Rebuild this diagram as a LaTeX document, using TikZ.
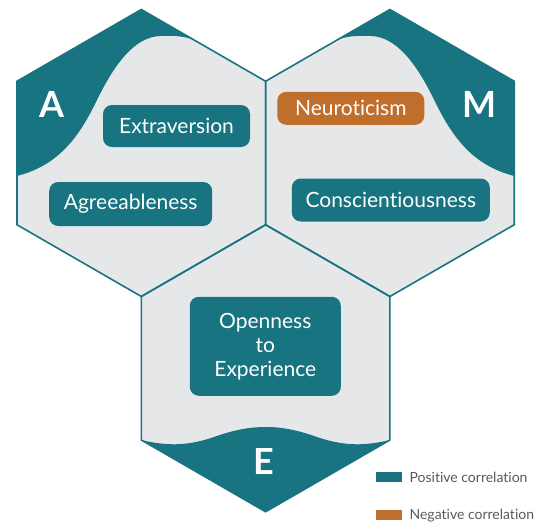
\documentclass[tikz,border=0pt]{standalone}
\usepackage{fontspec}
\setmainfont{Lato}[Ligatures={NoCommon}]
\usetikzlibrary{positioning}

\definecolor{hexteal}{RGB}{23,116,128}
\definecolor{hexgray}{RGB}{230,231,233}
\definecolor{negorange}{RGB}{192,110,43}
\definecolor{keygray}{RGB}{88,89,91}

\begin{document}
\begin{tikzpicture}[x=1pt, y=-1pt,
    hexline/.style = {draw=hexteal, line width=1.6pt, line join=miter},
    trait/.style = {fill=hexteal, rounded corners=9pt, text=white, inner sep=0pt,
                    align=center, font=\fontsize{21}{24}\selectfont},
    letter/.style = {text=white, font=\fontsize{36}{36}\selectfont\bfseries},
    key/.style = {minimum width=26pt, minimum height=10pt, inner sep=0pt},
    keytext/.style = {text=keygray, font=\fontsize{14}{16}\selectfont, inner sep=0pt}]
        \useasboundingbox (0,0) rectangle (547,522);

        % hexagon centres
        \coordinate (cA) at (141.3,153);
        \coordinate (cM) at (389.9,153);
        \coordinate (cE) at (265.6,368.25);

        \foreach \c in {cA,cM,cE}
            \fill[hexgray] (\c) ++(0,-143.5) -- ++(124.3,71.75) -- ++(0,143.5)
                -- ++(-124.3,71.75) -- ++(-124.3,-71.75) -- ++(0,-143.5) -- cycle;

        % dark corners
        \fill[hexteal] (17,176) .. controls (60,165) and (80,135) .. (97,100)
            .. controls (115,63) and (135,37) .. (160,36)
            .. controls (175,35.5) and (185,36) .. (195,40.5)
            -- (141.3,9.5) -- (17,81.25) -- cycle;
        \begin{scope}[shift={(531.2,0)}, xscale=-1]
            \fill[hexteal] (17,176) .. controls (60,165) and (80,135) .. (97,100)
                .. controls (115,63) and (135,37) .. (160,36)
                .. controls (175,35.5) and (185,36) .. (195,40.5)
                -- (141.3,9.5) -- (17,81.25) -- cycle;
        \end{scope}
        \fill[hexteal] (141.3,440) -- (265.6,511.75) -- (389.9,440)
            .. controls (365,446) and (345,446) .. (320,438)
            .. controls (300,431) and (285,427) .. (265.6,427)
            .. controls (246,427) and (231,431) .. (211,438)
            .. controls (186,446) and (166,446) .. (141.3,440);

        \foreach \c in {cA,cM,cE}
            \draw[hexline] (\c) ++(0,-143.5) -- ++(124.3,71.75) -- ++(0,143.5)
                -- ++(-124.3,71.75) -- ++(-124.3,-71.75) -- ++(0,-143.5) -- cycle;

        \node[letter] (letA) at (52.5,104.5) {A};
        \node[letter] (letM) at (480,104.5) {M};
        \node[letter] (letE) at (264,461.5) {E};

        \node[trait, minimum width=147pt, minimum height=42pt] (extra) at (176.5,126) {Extraversion};
        \node[trait, minimum width=163pt, minimum height=44pt] (agree) at (130.7,204) {Agreeableness};
        \node[trait, fill=negorange, minimum width=147pt, minimum height=33pt] (neuro) at (350.8,108.3) {Neuroticism};
        \node[trait, minimum width=198pt, minimum height=43pt] (consc) at (390.8,200) {Conscientiousness};
        \node[trait, minimum width=151pt, minimum height=99pt] (open) at (265.3,346.3) {Openness\\to\\Experience};

        \node[key, fill=hexteal] (poskey) at (388.7,477.3) {};
        \node[key, fill=negorange] (negkey) [below=27.7pt of poskey] {};
        \node[keytext] (postext) [right=7.5pt of poskey] {Positive correlation};
        \node[keytext] (negtext) [right=7.5pt of negkey] {Negative correlation};
    \end{tikzpicture}
\end{document}
